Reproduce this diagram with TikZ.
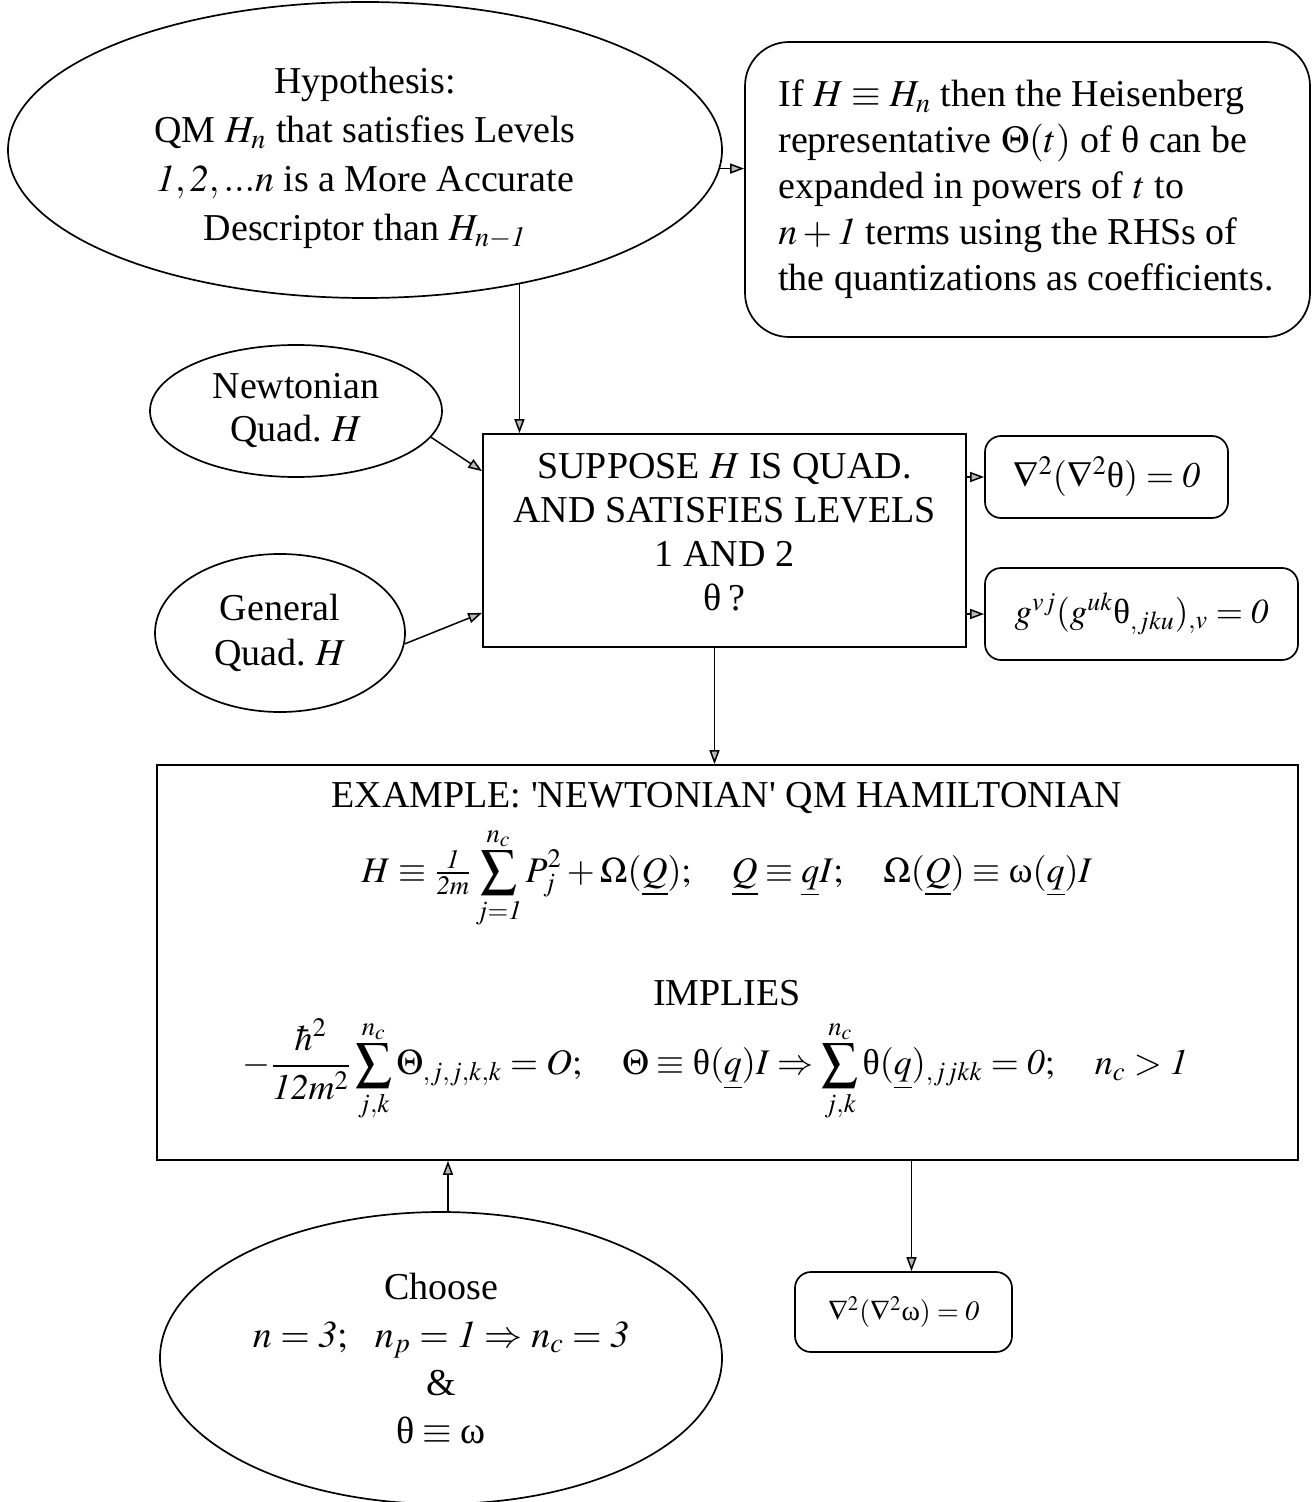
\documentclass[tikz,border=0pt]{standalone}
\usepackage{mathptmx}
\usepackage{fontspec}
\setmainfont{Liberation Serif}
\usetikzlibrary{shapes.geometric,arrows.meta,calc}
\newcommand{\uth}{\textup{θ}}
\newcommand{\uom}{\textup{ω}}
\begin{document}
\begin{tikzpicture}[x=0.5pt,y=-0.5pt,
  base/.style={draw, line width=0.85pt, font=\fontsize{19}{24.5}\selectfont, align=center, inner sep=0pt},
  ell/.style={base, ellipse},
  rbox/.style={base, rectangle},
  txt/.style={font=\fontsize{19}{24.5}\selectfont, inner sep=0pt, align=center},
  eqn/.style={font=\fontsize{18}{24}\selectfont, inner sep=0pt},
  arr/.style={line width=0.75pt, -{Triangle[length=7pt,width=5pt,fill=gray!55]}}]
\useasboundingbox (0,0) rectangle (1312,1502);
\fill[white] (0,0) rectangle (1312,1502);

\node[ell, minimum width=357pt, minimum height=148pt] (hyp) at (365,150) {};
\node[txt] (hyptext) at (365,158)
  {Hypothesis:\\QM $H_n$ that satisfies Levels\\$\mathit{1},\mathit{2},...n$ is a More Accurate\\Descriptor than $H_{n-\mathit{1}}$};

\node[rbox, rounded corners=22pt, minimum width=282.5pt, minimum height=147.5pt] (info) at (1027.5,189.5) {};
\node[txt, anchor=west, align=left, font=\fontsize{19}{23}\selectfont] (infotext) at (778,189)
  {If $H\equiv H_n$ then the Heisenberg\\representative $\Theta(t)$ of \uth\ can be\\expanded in powers of $t$ to\\$n+\mathit{1}$ terms using the RHSs of\\the quantizations as coefficients.};

\node[ell, minimum width=146pt, minimum height=66pt, font=\fontsize{19}{21.5}\selectfont] (newt) at (296,411) {Newtonian\\Quad.\ $H$};
\node[ell, minimum width=125pt, minimum height=79pt, font=\fontsize{19}{22.5}\selectfont] (gen) at (280,633) {General\\Quad.\ $H$};

\node[rbox, minimum width=241.5pt, minimum height=106.5pt] (sup) at (724.5,540.5) {};
\node[txt, font=\fontsize{19}{22}\selectfont] (suptext) at (724.5,532)
  {SUPPOSE $H$ IS QUAD.\\AND SATISFIES LEVELS\\1 AND 2\\θ\,?};

\node[rbox, rounded corners=8pt, minimum width=121.5pt, minimum height=41pt, font=\fontsize{18}{22}\selectfont] (nab) at (1106.5,477) {$\nabla^2(\nabla^2\uth)=\mathit{0}$};
\node[rbox, rounded corners=8pt, minimum width=156.5pt, minimum height=46pt, font=\fontsize{17.5}{22}\selectfont] (gbox) at (1141.5,614) {$g^{vj}(g^{uk}\uth_{,jku})_{,v}=\mathit{0}$};

\node[rbox, minimum width=570.5pt, minimum height=197.5pt] (ex) at (727.5,962.5) {};
\node[txt] (extitle) at (727,798) {EXAMPLE: \textquotesingle NEWTONIAN\textquotesingle\ QM HAMILTONIAN};
\node[eqn] (eqone) at (727,878) {$\displaystyle H\equiv{\textstyle\frac{\mathit{1}}{\mathit{2}m}}\sum_{j=\mathit{1}}^{n_c}P_j^2+\Omega(\underline{Q});\quad \underline{Q}\equiv \underline{q}I;\quad \Omega(\underline{Q})\equiv\uom(\underline{q})I$};
\node[txt] (implies) at (727,993) {IMPLIES};
\node[eqn] (eqtwo) at (715,1070) {$\displaystyle -\frac{\hbar^2}{\mathit{12}m^2}\sum_{j,k}^{n_c}\Theta_{,j,j,k,k}=\mathit{O};\quad \Theta\equiv\uth(\underline{q})I\Rightarrow\sum_{j,k}^{n_c}\uth(\underline{q})_{,jjkk}=\mathit{0};\quad n_c>\mathit{1}$};

\node[ell, minimum width=281pt, minimum height=146pt, font=\fontsize{19}{24}\selectfont] (ch) at (441,1358)
  {Choose\\$n=\mathit{3};\hspace{0.6em} n_p=\mathit{1}\Rightarrow n_c=\mathit{3}$\\\&\\$\uth\equiv\uom$};

\node[rbox, rounded corners=8pt, minimum width=108.5pt, minimum height=40pt, font=\fontsize{14}{16}\selectfont] (sm) at (903.5,1312) {$\nabla^2(\nabla^2\uom)=\mathit{0}$};

\draw[arr] (hyp.-3) -- (hyp.-3 -| info.west);
\draw[arr] (hyp.-41) -- (hyp.-41 |- sup.north);
\draw[arr] (newt.-11) -- ($(sup.north west)+(0,38)$);
\draw[arr] (gen.-5) -- ($(sup.south west)+(0,-35)$);
\draw[arr] (sup.east |- nab.west) -- (nab.west);
\draw[arr] (sup.east |- gbox.west) -- (gbox.west);
\coordinate (s1) at ($(sup.south)+(-10,0)$);
\draw[arr] (s1) -- (s1 |- ex.north);
\coordinate (c1) at ($(ch.north)+(7,0)$);
\draw[arr] (c1) -- (c1 |- ex.south);
\coordinate (e1) at ($(sm.north)+(8,0)$);
\draw[arr] (e1 |- ex.south) -- (e1);
\end{tikzpicture}
\end{document}
